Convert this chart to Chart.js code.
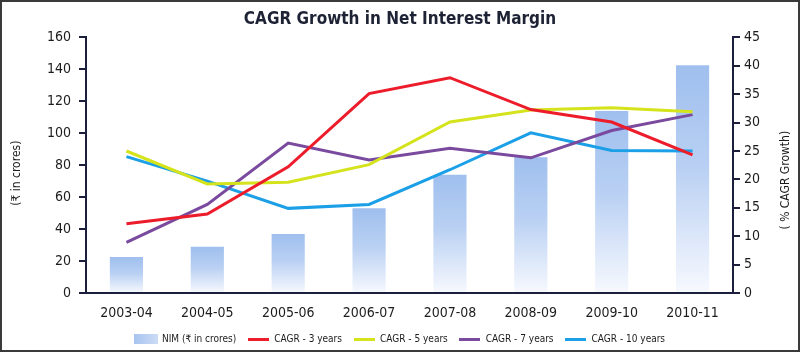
<!DOCTYPE html>
<html>
<head>
<meta charset="utf-8">
<title>CAGR Growth in Net Interest Margin</title>
<script src="https://cdn.jsdelivr.net/npm/chart.js@4.4.1/dist/chart.umd.min.js"></script>
<style>
    html, body { margin: 0; padding: 0; background: #fff; }
    .frame {
        width: 800px;
        height: 352px;
        box-sizing: border-box;
        border: 2px solid #3a3a3a;
        background: #fff;
    }
    .box { position: relative; width: 796px; height: 348px; }
</style>
</head>
<body>
<div class="frame">
    <div class="box"><canvas id="nimChart"></canvas></div>
</div>

<script>
let chart;

// -------------------------
// DATA
// -------------------------
const categories = ["2003-04", "2004-05", "2005-06", "2006-07", "2007-08", "2008-09", "2009-10", "2010-11"];

// NIM in crores (left axis)
const nimValues = [22.5, 29, 37, 53, 74, 85, 114, 142.5];

// CAGR % (right axis)
const cagr3Years = [12.2, 13.9, 22.2, 35.1, 37.9, 32.3, 30.1, 24.3];
const cagr5Years = [25.0, 19.2, 19.5, 22.6, 30.1, 32.2, 32.6, 31.9];
const cagr7Years = [8.9, 15.6, 26.4, 23.4, 25.5, 23.8, 28.6, 31.4];
const cagr10Years = [24.0, 19.7, 14.9, 15.6, 21.7, 28.2, 25.1, 25.0];

const seriesLabels = ["NIM (₹ in crores)", "CAGR - 3 years", "CAGR - 5 years", "CAGR - 7 years", "CAGR - 10 years"];

const leftTicks = { min: 0, max: 160, step: 20 };
const rightTicks = { min: 0, max: 45, step: 5 };

const leftTitle = "(₹ in crores)";
const rightTitle = "( % CAGR Growth)";

// -------------------------
// STYLE
// -------------------------
const axisColor = "#1b1f3b";
const textColor = "#1c1c1c";
const fontFamily = "'DejaVu Sans Condensed', 'DejaVu Sans', sans-serif";

const lineColors = ["#ec1c2b", "#d4e31c", "#7a4a9e", "#1b9fe6"];

// gradient bar, fading to white towards the base
function barFill(context) {
    const c = context.chart;
    if (!c.chartArea || context.raw === undefined) return "#a9c5ef";
    const yScale = c.scales.y;
    const top = yScale.getPixelForValue(context.raw);
    const base = yScale.getPixelForValue(0);
    const g = c.ctx.createLinearGradient(0, top, 0, base);
    g.addColorStop(0, "#9fbfee");
    g.addColorStop(0.45, "#b9d0f3");
    g.addColorStop(1, "#f7f9fe");
    return g;
}

// small canvases used as legend markers
function makeSwatch(w, h, paint) {
    const cv = document.createElement("canvas");
    cv.width = w;
    cv.height = h;
    paint(cv.getContext("2d"), w, h);
    return cv;
}

const barSwatch = makeSwatch(24, 10, (ctx, w, h) => {
    const g = ctx.createLinearGradient(0, 0, w, 0);
    g.addColorStop(0, "#a7c3ef");
    g.addColorStop(1, "#cddcf6");
    ctx.fillStyle = g;
    ctx.fillRect(0, 0, w, h);
});

const lineSwatches = lineColors.map(col => makeSwatch(21, 3, (ctx, w, h) => {
    ctx.fillStyle = col;
    ctx.fillRect(0, 0, w, h);
}));

// -------------------------
// AXIS TITLES (both read bottom to top)
// -------------------------
const axisTitles = {
    id: "axisTitles",
    afterDraw(c) {
        const { ctx, chartArea } = c;
        const midY = (chartArea.top + chartArea.bottom) / 2;
        ctx.save();
        ctx.font = "12px " + fontFamily;
        ctx.fillStyle = textColor;
        ctx.textAlign = "center";
        ctx.textBaseline = "middle";

        ctx.save();
        ctx.translate(chartArea.left - 69, midY + 8);
        ctx.rotate(-Math.PI / 2);
        ctx.fillText(leftTitle, 0, 0);
        ctx.restore();

        ctx.save();
        ctx.translate(chartArea.right + 53, midY + 15);
        ctx.rotate(-Math.PI / 2);
        ctx.fillText(rightTitle, 0, 0);
        ctx.restore();

        ctx.restore();
    }
};

// -------------------------
// CHART
// -------------------------
function drawChart() {

    const ctx = document.getElementById("nimChart").getContext("2d");

    const lineSets = [cagr3Years, cagr5Years, cagr7Years, cagr10Years].map((values, i) => ({
        type: "line",
        label: seriesLabels[i + 1],
        data: values,
        yAxisID: "y1",
        borderColor: lineColors[i],
        backgroundColor: lineColors[i],
        borderWidth: 3,
        pointRadius: 0,
        tension: 0,
        fill: false,
        order: 0
    }));

    const tickFont = { family: fontFamily, size: 14 };

    chart = new Chart(ctx, {
        type: "bar",
        data: {
            labels: categories,
            datasets: [{
                type: "bar",
                label: seriesLabels[0],
                data: nimValues,
                yAxisID: "y",
                backgroundColor: barFill,
                borderWidth: 0,
                barPercentage: 0.41,
                categoryPercentage: 1,
                order: 1
            }].concat(lineSets)
        },
        options: {
            responsive: true,
            maintainAspectRatio: false,
            animation: false,
            layout: { padding: { left: 0, right: 0, top: 0, bottom: -4 } },
            plugins: {
                title: {
                    display: true,
                    text: "CAGR Growth in Net Interest Margin",
                    color: "#1e2235",
                    font: { family: fontFamily, size: 17, weight: "bold" },
                    padding: { top: 7, bottom: 8 }
                },
                legend: {
                    position: "bottom",
                    labels: {
                        usePointStyle: true,
                        pointStyleWidth: 22,
                        boxHeight: 11,
                        padding: 11,
                        color: textColor,
                        font: { family: fontFamily, size: 10 },
                        generateLabels(c) {
                            return c.data.datasets.map((ds, i) => ({
                                text: ds.label,
                                pointStyle: i === 0 ? barSwatch : lineSwatches[i - 1],
                                fillStyle: "transparent",
                                strokeStyle: "transparent",
                                lineWidth: 0,
                                fontColor: textColor,
                                hidden: false,
                                datasetIndex: i
                            }));
                        }
                    }
                },
                tooltip: { enabled: false }
            },
            scales: {
                x: {
                    offset: true,
                    grid: { display: false, drawTicks: false },
                    border: { display: true, color: axisColor, width: 2 },
                    ticks: { font: tickFont, color: textColor, padding: 12, maxRotation: 0, autoSkip: false },
                    afterFit(scale) { scale.height = 30; }
                },
                y: {
                    position: "left",
                    min: leftTicks.min,
                    max: leftTicks.max,
                    ticks: { stepSize: leftTicks.step, font: tickFont, color: textColor, padding: 8 },
                    grid: { drawOnChartArea: false, color: axisColor, lineWidth: 2, tickLength: 7 },
                    border: { display: true, color: axisColor, width: 2 },
                    afterFit(scale) { scale.width = 84; }
                },
                y1: {
                    position: "right",
                    min: rightTicks.min,
                    max: rightTicks.max,
                    ticks: { stepSize: rightTicks.step, font: tickFont, color: textColor, padding: 4 },
                    grid: { drawOnChartArea: false, color: axisColor, lineWidth: 2, tickLength: 7 },
                    border: { display: true, color: axisColor, width: 2 },
                    afterFit(scale) { scale.width = 65; }
                }
            }
        },
        plugins: [axisTitles]
    });
}

drawChart();
</script>
</body>
</html>
